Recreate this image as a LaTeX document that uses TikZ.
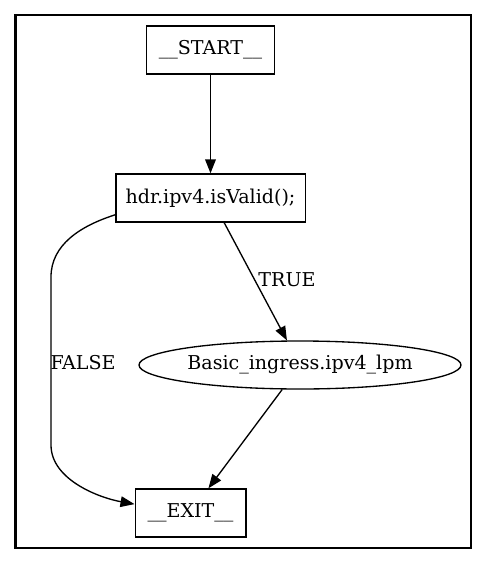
\documentclass[tikz,border=0pt]{standalone}
\usepackage{fontspec}
\setmainfont{DejaVu Serif}
\usetikzlibrary{arrows.meta,shapes.geometric}

\begin{document}
\begin{tikzpicture}[x=0.75pt, y=-0.75pt, line width=1pt,
		font=\fontsize{14.3}{16}\selectfont,
		blk/.style={draw, rectangle, inner sep=0pt, minimum height=36pt},
		tbl/.style={draw, ellipse, inner sep=0pt, minimum width=241.5pt, minimum height=36pt},
		flow/.style={-{Triangle[length=10.5pt, width=8pt]}}]
		\useasboundingbox (0,0) rectangle (487,564);
		
		\draw [line width=2pt] (15.5,15) rectangle (471,548);
		
		\node [blk, minimum width=96pt] (start) at (210.5, 50) {\_\_START\_\_};
		\node [blk, minimum width=142pt] (valid) at (210.5, 198) {hdr.ipv4.isValid();};
		\node [tbl] (lpm) at (300, 365) {Basic\_ingress.ipv4\_lpm};
		\node [blk, minimum width=83pt] (exit) at (190.5, 513) {\_\_EXIT\_\_};
		
		\draw [flow] (start) -- (valid);
		\draw [flow] (valid.299) -- (lpm.118);
		\draw [flow] (lpm.234) -- (exit.54);
		\draw [flow] (valid.190) .. controls (80,226) and (51,245) .. (51,277)
			-- (51,445) .. controls (51,480) and (100,498) .. (exit.171);
		
		\node (true) at (287, 280) {TRUE};
		\node (false) at (83, 363) {FALSE};
		
	\end{tikzpicture}
\end{document}
